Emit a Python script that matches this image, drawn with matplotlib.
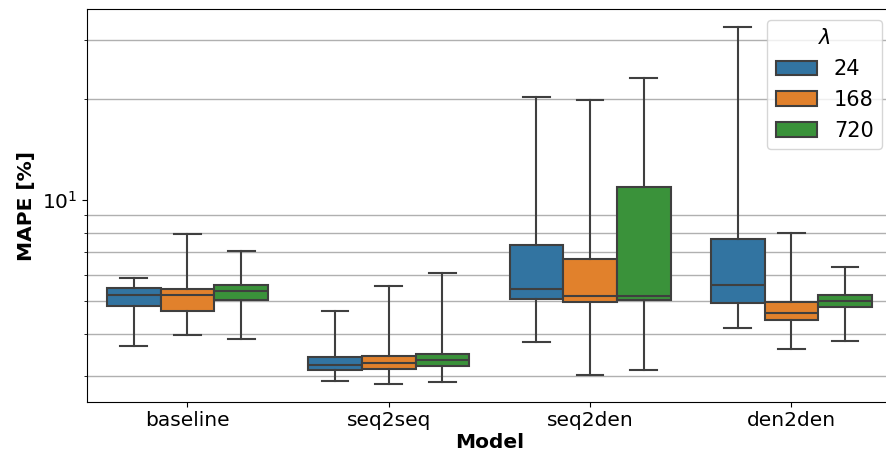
import matplotlib
matplotlib.use("Agg")
import matplotlib.pyplot as plt
from matplotlib.patches import Patch
from matplotlib.ticker import LogLocator, NullFormatter
import numpy as np

models = ['baseline', 'seq2seq', 'seq2den', 'den2den']
lambdas = ['24', '168', '720']
colors = ['#3274a1', '#e1812c', '#3a923a']

# box statistics per lambda, one value per model (MAPE in %)
whis_lo = {'24': [3.69, 2.89, 3.78, 4.18],
           '168': [3.96, 2.84, 3.02, 3.61],
           '720': [3.87, 2.88, 3.13, 3.80]}
q1 = {'24': [4.85, 3.12, 5.08, 4.94],
      '168': [4.69, 3.14, 4.97, 4.39],
      '720': [5.05, 3.22, 5.03, 4.80]}
med = {'24': [5.22, 3.23, 5.45, 5.59],
       '168': [5.21, 3.27, 5.18, 4.61],
       '720': [5.37, 3.35, 5.20, 5.02]}
q3 = {'24': [5.47, 3.42, 7.35, 7.64],
      '168': [5.43, 3.45, 6.68, 4.98],
      '720': [5.59, 3.49, 10.9, 5.23]}
whis_hi = {'24': [5.86, 4.68, 20.3, 32.7],
           '168': [7.94, 5.54, 19.9, 7.96],
           '720': [7.07, 6.07, 23.0, 6.31]}

fig = plt.figure(figsize=(8.86, 4.58), dpi=100)
ax = fig.add_axes([0.0979, 0.1229, 0.9089, 0.8568])

w = 0.8 / len(lambdas)
line = '#3f3f3f'
for j, lam in enumerate(lambdas):
    stats = []
    for i in range(len(models)):
        stats.append(dict(whislo=whis_lo[lam][i], q1=q1[lam][i], med=med[lam][i],
                          q3=q3[lam][i], whishi=whis_hi[lam][i]))
    pos = np.arange(len(models)) + (j - 1) * w
    ax.bxp(stats, positions=pos, widths=w, patch_artist=True, showfliers=False,
           manage_ticks=False,
           boxprops=dict(facecolor=colors[j], edgecolor=line, linewidth=1.5),
           medianprops=dict(color=line, linewidth=1.5),
           whiskerprops=dict(color=line, linewidth=1.5),
           capprops=dict(color=line, linewidth=1.5),
           capwidths=w / 2, zorder=3)

ax.set_yscale('log')
ax.set_ylim(2.516, 36.9)
ax.set_xlim(-0.5, 3.5)
ax.yaxis.set_minor_locator(LogLocator(base=10, subs=np.arange(2, 10)))
ax.yaxis.set_minor_formatter(NullFormatter())
ax.grid(which='minor', axis='y', color='#b0b0b0', linewidth=1, zorder=0)
ax.set_axisbelow(True)
ax.set_xticks(range(len(models)))
ax.set_xticklabels(models)
ax.tick_params(labelsize=14.5)
ax.set_xlabel('Model', fontsize=14.5, fontweight='bold', labelpad=2)
ax.set_ylabel('MAPE [%]', fontsize=14.5, fontweight='bold')

handles = [Patch(facecolor=c, edgecolor=line, linewidth=1.5) for c in colors]
leg = ax.legend(handles, lambdas, title=r'$\lambda$', fontsize=15, title_fontsize=15,
                labelspacing=0.52, borderpad=0.4,
                loc='upper right', bbox_to_anchor=(882 / 886, 1 - 20 / 458),
                bbox_transform=fig.transFigure, borderaxespad=0)

fig.savefig('out.png', dpi=100)
